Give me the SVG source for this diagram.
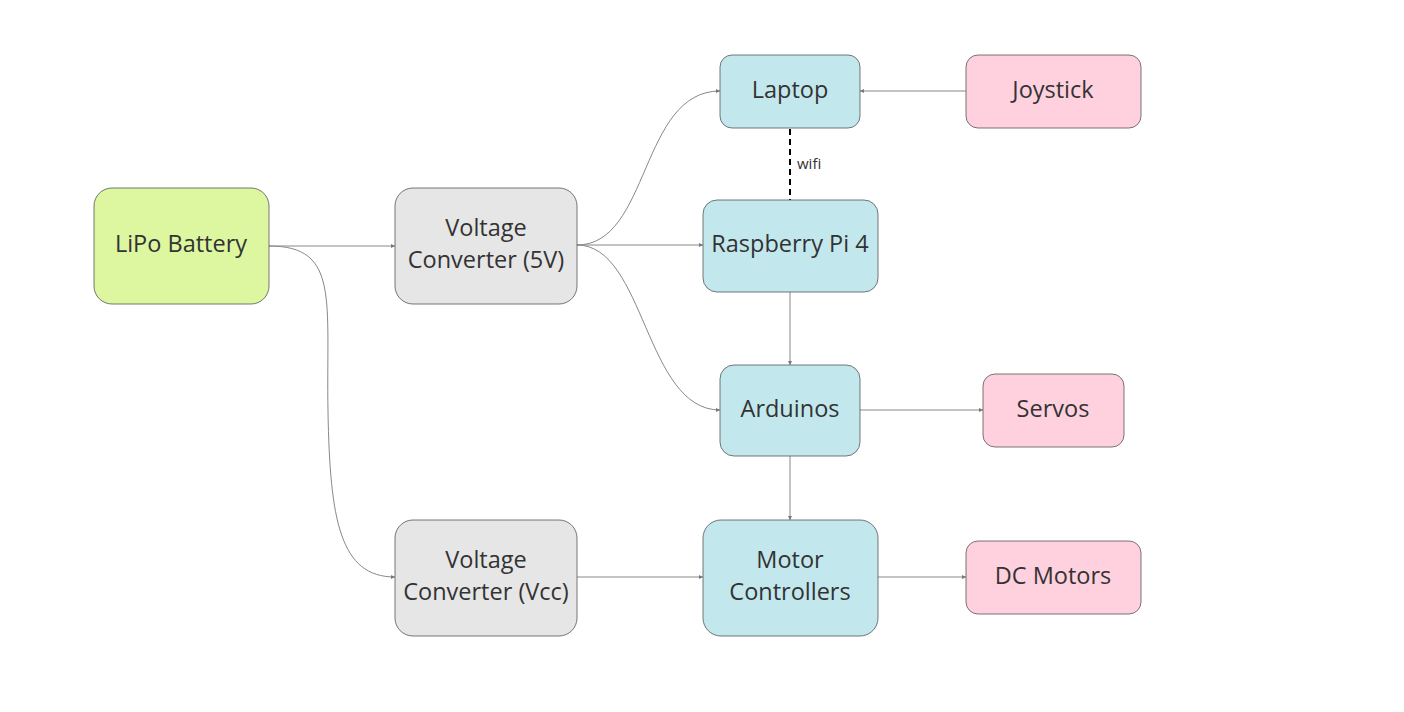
<svg xmlns="http://www.w3.org/2000/svg" width="1404" height="712" viewBox="0 0 1404 712">
<style>
.n{stroke:#555;stroke-width:0.8}
.g{fill:#dcf7a0}.gr{fill:#e6e6e6}.b{fill:#c2e8ed}.p{fill:#ffd1df}
text{font-family:"Open Sans","Liberation Sans",sans-serif;font-size:23.5px;fill:#333;text-anchor:middle}
.c{fill:none;stroke:#888;stroke-width:1}
.w{fill:none;stroke:#000;stroke-width:2;stroke-dasharray:6,4}
.l{font-size:15px;text-anchor:start}
</style>
<defs>
<marker id="a" viewBox="0 0 6 6" refX="6" refY="3" markerWidth="4" markerHeight="4" orient="auto" markerUnits="userSpaceOnUse">
<path d="M0,0 L6,3 L0,6 z" fill="#777"/>
</marker>
</defs>
<g id="connectors">
<path class="c" d="M269,246 L395,246" marker-end="url(#a)"/>
<path class="c" d="M269,246 C340,246 326,300 328,412 C330,520 340,577 395,577" marker-end="url(#a)"/>
<path class="c" d="M577,245 C650,245 640,91 720,91" marker-end="url(#a)"/>
<path class="c" d="M577,245 L703,245" marker-end="url(#a)"/>
<path class="c" d="M577,245 C645,245 645,410 720,410" marker-end="url(#a)"/>
<path class="w" d="M790,129 L790,200"/>
<text class="l" x="797" y="169">wifi</text>
<path class="c" d="M790,292 L790,365" marker-end="url(#a)"/>
<path class="c" d="M790,456 L790,520" marker-end="url(#a)"/>
<path class="c" d="M966,91 L860,91" marker-end="url(#a)"/>
<path class="c" d="M860,410 L983,410" marker-end="url(#a)"/>
<path class="c" d="M577,577 L703,577" marker-end="url(#a)"/>
<path class="c" d="M878,577 L966,577" marker-end="url(#a)"/>
</g>
<g id="lipo"><rect class="n g" x="94" y="188" width="175" height="116" rx="18"/><text x="181" y="252">LiPo Battery</text></g>
<g id="vc5"><rect class="n gr" x="395" y="188" width="182" height="116" rx="18"/><text x="486" y="236">Voltage</text><text x="486" y="268">Converter (5V)</text></g>
<g id="vccc"><rect class="n gr" x="395" y="520" width="182" height="116" rx="18"/><text x="486" y="568">Voltage</text><text x="486" y="600">Converter (Vcc)</text></g>
<g id="laptop"><rect class="n b" x="720" y="55" width="140" height="73" rx="12"/><text x="790" y="98">Laptop</text></g>
<g id="rpi"><rect class="n b" x="703" y="200" width="175" height="92" rx="14"/><text x="790" y="252">Raspberry Pi 4</text></g>
<g id="arduinos"><rect class="n b" x="720" y="365" width="140" height="91" rx="14"/><text x="790" y="417">Arduinos</text></g>
<g id="motor"><rect class="n b" x="703" y="520" width="175" height="116" rx="18"/><text x="790" y="568">Motor</text><text x="790" y="600">Controllers</text></g>
<g id="joystick"><rect class="n p" x="966" y="55" width="175" height="73" rx="12"/><text x="1053" y="98">Joystick</text></g>
<g id="servos"><rect class="n p" x="983" y="374" width="141" height="73" rx="12"/><text x="1053" y="417">Servos</text></g>
<g id="dcmotors"><rect class="n p" x="966" y="541" width="175" height="73" rx="12"/><text x="1053" y="584">DC Motors</text></g>
</svg>
